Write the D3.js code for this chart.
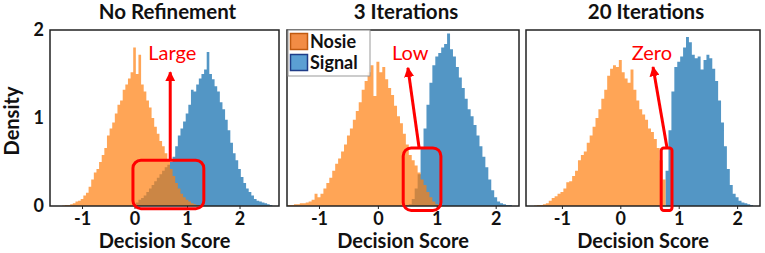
<!DOCTYPE html>
<html><head><meta charset="utf-8">
<script src="https://cdn.jsdelivr.net/npm/d3@7"></script>
<style>body{margin:0;background:#fff}svg{display:block}text{font-family:Lato,"Open Sans",sans-serif}</style>
</head><body>
<svg id="chart" width="765" height="253"></svg>
<script>
// ---------------- data ----------------
const titles = ["No Refinement", "3 Iterations", "20 Iterations"];
const binWidth = 0.05;
const xTicks = [-1, 0, 1, 2];
const yTicks = [0, 1, 2];
const seriesNames = ["Nosie", "Signal"];

// panel 1: No Refinement (bin centres start at noise1Start / signal1Start)
const noise1Start = -1.35;
const noise1 = [0.005,0.01,0.01,0.02,0.03,0.05,0.06,0.08,0.12,0.15,0.22,0.30,0.38,0.42,0.50,0.58,0.66,0.80,0.88,0.95,
  1.05,1.15,1.20,1.32,1.38,1.45,1.52,1.80,1.50,1.72,1.38,1.30,1.20,1.12,1.00,0.90,0.82,0.74,0.68,0.60,
  0.52,0.42,0.34,0.26,0.20,0.14,0.10,0.07,0.05,0.03,0.02,0.01,0.01];
const signal1Start = 0.0;
const signal1 = [0.02,0.04,0.07,0.09,0.12,0.16,0.20,0.24,0.28,0.32,0.36,0.40,0.44,0.47,0.50,0.56,0.68,0.80,0.88,0.96,
  1.05,1.15,1.32,1.30,1.38,1.45,1.50,1.55,1.75,1.50,1.44,1.36,1.30,1.18,1.10,0.98,0.86,0.72,0.60,0.52,
  0.42,0.33,0.26,0.20,0.16,0.12,0.08,0.06,0.05,0.04,0.03,0.02,0.01];

// panel 2: 3 Iterations
const noise2Start = -1.5;
const noise2 = [0.01,0.01,0.02,0.02,0.03,0.03,0.04,0.05,0.07,0.14,0.10,0.14,0.20,0.26,0.32,0.40,0.48,0.54,0.62,0.70,
  0.80,0.88,0.98,1.08,1.18,1.32,1.42,1.52,1.60,1.25,1.64,1.52,1.58,1.44,1.34,1.26,1.14,1.02,0.94,0.82,
  0.70,0.58,0.52,0.46,0.38,0.30,0.24,0.16,0.10,0.05,0.02];
const signal2Start = 0.5;
const signal2 = [0.01,0.02,0.08,0.20,0.36,0.65,0.88,1.15,1.40,1.60,1.70,1.74,1.80,1.84,1.96,1.78,1.70,1.58,1.46,1.34,
  1.22,1.10,1.02,0.92,0.80,0.68,0.56,0.44,0.30,0.18,0.10,0.05,0.03,0.02,0.01,0.01];

// panel 3: 20 Iterations
const noise3Start = -1.45;
const noise3 = [0.005,0.01,0.01,0.02,0.03,0.06,0.09,0.11,0.14,0.16,0.20,0.27,0.28,0.34,0.40,0.52,0.58,0.62,0.72,0.80,
  0.90,1.00,1.10,1.22,1.32,1.48,1.56,1.60,1.58,1.66,1.52,1.45,1.40,1.55,1.32,1.20,1.10,1.04,0.98,0.88,
  0.84,0.76,0.66,0.52,0.30];
const signal3Start = 0.8;
const signal3 = [0.40,0.86,1.30,1.58,1.64,1.70,1.80,1.92,1.86,1.72,1.68,1.70,1.55,1.66,1.72,1.68,1.56,1.42,1.20,0.95,
  0.68,0.42,0.24,0.14,0.10,0.06,0.04,0.03,0.02,0.01];

// annotations (data units)
const annoLabels = ["Large", "Low", "Zero"];
const annoBoxes = [[-0.03, 1.32, -0.03, 0.52], [0.43, 1.07, -0.05, 0.66], [0.70, 0.885, -0.05, 0.66]];
const annoArrows = [[0.68, 0.52, 0.68, 1.52], [0.70, 0.66, 0.51, 1.57], [0.80, 0.66, 0.56, 1.58]];
const annoText = [[0.72, 1.66], [0.55, 1.66], [0.54, 1.66]];

// ---------------- layout ----------------
const panelX = [[50, 279], [287, 519], [526, 760]];
const xDomains = [[-1.61, 2.752], [-1.543, 2.396], [-1.615, 2.392]];
const plotTop = 30, plotBottom = 206;
const noiseColor = "#ff7f0e", signalColor = "#1f77b4";

const svg = d3.select("#chart");
const defs = svg.append("defs");
defs.append("marker").attr("id", "ah").attr("viewBox", "0 0 10 10").attr("refX", 9).attr("refY", 5)
  .attr("markerWidth", 3.4).attr("markerHeight", 3.4).attr("orient", "auto")
  .append("path").attr("d", "M0,0L10,5L0,10Z").attr("fill", "#ff0000");

const data = [
  [noise1Start, noise1, signal1Start, signal1],
  [noise2Start, noise2, signal2Start, signal2],
  [noise3Start, noise3, signal3Start, signal3]
];

function binsToPoints(start, vals) {
  const pts = vals.map((v, i) => [start + i * binWidth - binWidth / 2, v]);
  pts.push([start + vals.length * binWidth - binWidth / 2, vals[vals.length - 1]]);
  return pts;
}

const y = d3.scaleLinear().domain([0, 2]).range([plotBottom, plotTop]);

data.forEach((d, p) => {
  const x = d3.scaleLinear().domain(xDomains[p]).range(panelX[p]);
  const g = svg.append("g");
  const clipId = "clip" + p;
  defs.append("clipPath").attr("id", clipId).append("rect")
    .attr("x", panelX[p][0]).attr("y", plotTop).attr("width", panelX[p][1] - panelX[p][0]).attr("height", plotBottom - plotTop);
  const area = d3.area().x(q => x(q[0])).y0(y(0)).y1(q => y(q[1])).curve(d3.curveStepAfter);
  const hg = g.append("g").attr("clip-path", `url(#${clipId})`);
  hg.append("path").attr("d", area(binsToPoints(d[2], d[3]))).attr("fill", signalColor).attr("fill-opacity", 0.77);
  hg.append("path").attr("d", area(binsToPoints(d[0], d[1]))).attr("fill", noiseColor).attr("fill-opacity", 0.7);

  // x axis
  const xa = g.append("g").attr("transform", `translate(0,${plotBottom})`)
    .call(d3.axisBottom(x).tickValues(xTicks).tickSize(3).tickPadding(3).tickFormat(v => String(v)));
  xa.select(".domain").remove();
  xa.selectAll("line").attr("stroke", "#222");
  xa.selectAll("text").attr("font-size", 18).attr("font-weight", "bold").attr("fill", "#111")
    .attr("font-family", "Lato, sans-serif");

  if (p === 0) {
    const ya = g.append("g").attr("transform", `translate(${panelX[p][0]},0)`)
      .call(d3.axisLeft(y).tickValues(yTicks).tickSize(0).tickPadding(6).tickFormat(v => String(v)));
    ya.select(".domain").remove();
    ya.selectAll("text").attr("font-size", 18).attr("font-weight", "bold").attr("fill", "#111")
      .attr("font-family", "Lato, sans-serif");
  }

  // frame
  g.append("rect").attr("x", panelX[p][0]).attr("y", plotTop)
    .attr("width", panelX[p][1] - panelX[p][0]).attr("height", plotBottom - plotTop)
    .attr("fill", "none").attr("stroke", "#222").attr("stroke-width", 1.5);

  // title
  g.append("text").attr("x", (panelX[p][0] + panelX[p][1]) / 2 + 3).attr("y", 19)
    .attr("text-anchor", "middle").attr("font-size", 20.5).attr("font-weight", "bold").attr("fill", "#111")
    .text(titles[p]);
  // x label
  g.append("text").attr("x", (panelX[p][0] + panelX[p][1]) / 2).attr("y", 248)
    .attr("text-anchor", "middle").attr("font-size", 20).attr("font-weight", "bold").attr("fill", "#111")
    .text("Decision Score");

  // annotations
  const b = annoBoxes[p];
  g.append("rect").attr("x", x(b[0])).attr("y", y(b[3]))
    .attr("width", x(b[1]) - x(b[0])).attr("height", y(b[2]) - y(b[3]))
    .attr("rx", Math.min(8, (x(b[1]) - x(b[0])) / 4)).attr("fill", "none")
    .attr("stroke", "#ff0000").attr("stroke-width", 3);
  const a = annoArrows[p];
  g.append("line").attr("x1", x(a[0])).attr("y1", y(a[1])).attr("x2", x(a[2])).attr("y2", y(a[3]))
    .attr("stroke", "#ff0000").attr("stroke-width", 3).attr("marker-end", "url(#ah)");
  g.append("text").attr("x", x(annoText[p][0])).attr("y", y(annoText[p][1]))
    .attr("text-anchor", "middle").attr("font-size", 20).attr("fill", "#ff0000").text(annoLabels[p]);
});

// y label
svg.append("text").attr("transform", "translate(19,121) rotate(-90)").attr("text-anchor", "middle")
  .attr("font-size", 20).attr("font-weight", "bold").attr("fill", "#111").text("Density");

// legend (panel 2)
const lg = svg.append("g");
lg.append("rect").attr("x", 288).attr("y", 30).attr("width", 82).attr("height", 46)
  .attr("fill", "#fff").attr("fill-opacity", 0.85).attr("stroke", "#999").attr("stroke-width", 1);
const legFill = ["#f28c45", "#5b9fd3"], legStroke = ["#c05a10", "#1f3c88"];
seriesNames.forEach((n, i) => {
  lg.append("rect").attr("x", 290.5).attr("y", 33.5 + i * 21).attr("width", 17).attr("height", 16)
    .attr("fill", legFill[i]).attr("stroke", legStroke[i]).attr("stroke-width", 1.5);
  lg.append("text").attr("x", 310).attr("y", 48 + i * 21).attr("font-size", 18).attr("font-weight", "bold")
    .attr("fill", "#111").text(n);
});
</script>
</body></html>
